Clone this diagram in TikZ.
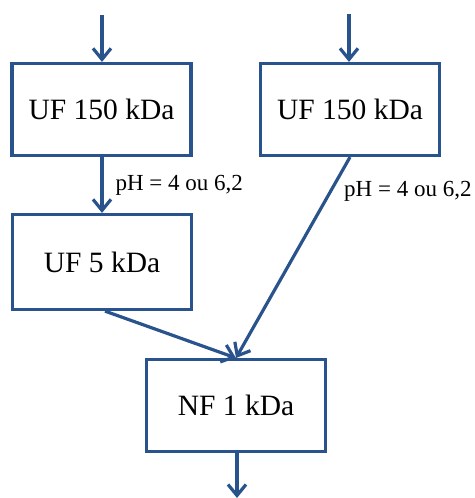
\documentclass[tikz,border=0pt]{standalone}
\usepackage{fontspec}
\setmainfont{Liberation Serif}
\usetikzlibrary{arrows.meta, positioning}
\definecolor{flowblue}{RGB}{41,83,140}

\begin{document}
\begin{tikzpicture}[x=1pt,y=-1pt,
    unit/.style={draw=flowblue, line width=3.2pt, rectangle, minimum width=179pt,
      minimum height=92pt, font=\fontsize{29.5}{34}\selectfont},
    flow/.style={draw=flowblue, line width=3.2pt, -{Straight Barb[length=11pt,width=18pt]}},
    phlabel/.style={font=\fontsize{23}{27}\selectfont, inner sep=0pt}]
  \useasboundingbox (0,0) rectangle (474,498);
  % Membrane steps
  \node[unit] (ufa) at (101.5,109.5) {UF 150 kDa};
  \node[unit] (ufb) at (350,109.5) {UF 150 kDa};
  \node[unit, minimum height=95pt] (ufc) at (102,262) {UF 5 kDa};
  \node[unit] (nf) at (236,405.5) {NF 1 kDa};

  % Feeds and outlet
  \coordinate (ina) at (102,15);
  \coordinate (inb) at (349,14);
  \coordinate (out) at (237,498);
  \coordinate (meet) at (236,358);

  \draw[flow] (ina) -- (ina |- ufa.north);
  \draw[flow] (inb) -- (inb |- ufb.north);
  \draw[flow] (ufa.south -| ina) -- (ufc.north -| ina)
    node[phlabel, midway, right=12pt] {pH = 4 ou 6,2};
  \draw[flow] ([xshift=3pt]ufc.south) -- (meet);
  \draw[flow] (ufb.south) -- (meet)
    node[phlabel, pos=0.17, right=12pt] {pH = 4 ou 6,2};
  \draw[flow] (nf.south -| out) -- (out);
\end{tikzpicture}
\end{document}
